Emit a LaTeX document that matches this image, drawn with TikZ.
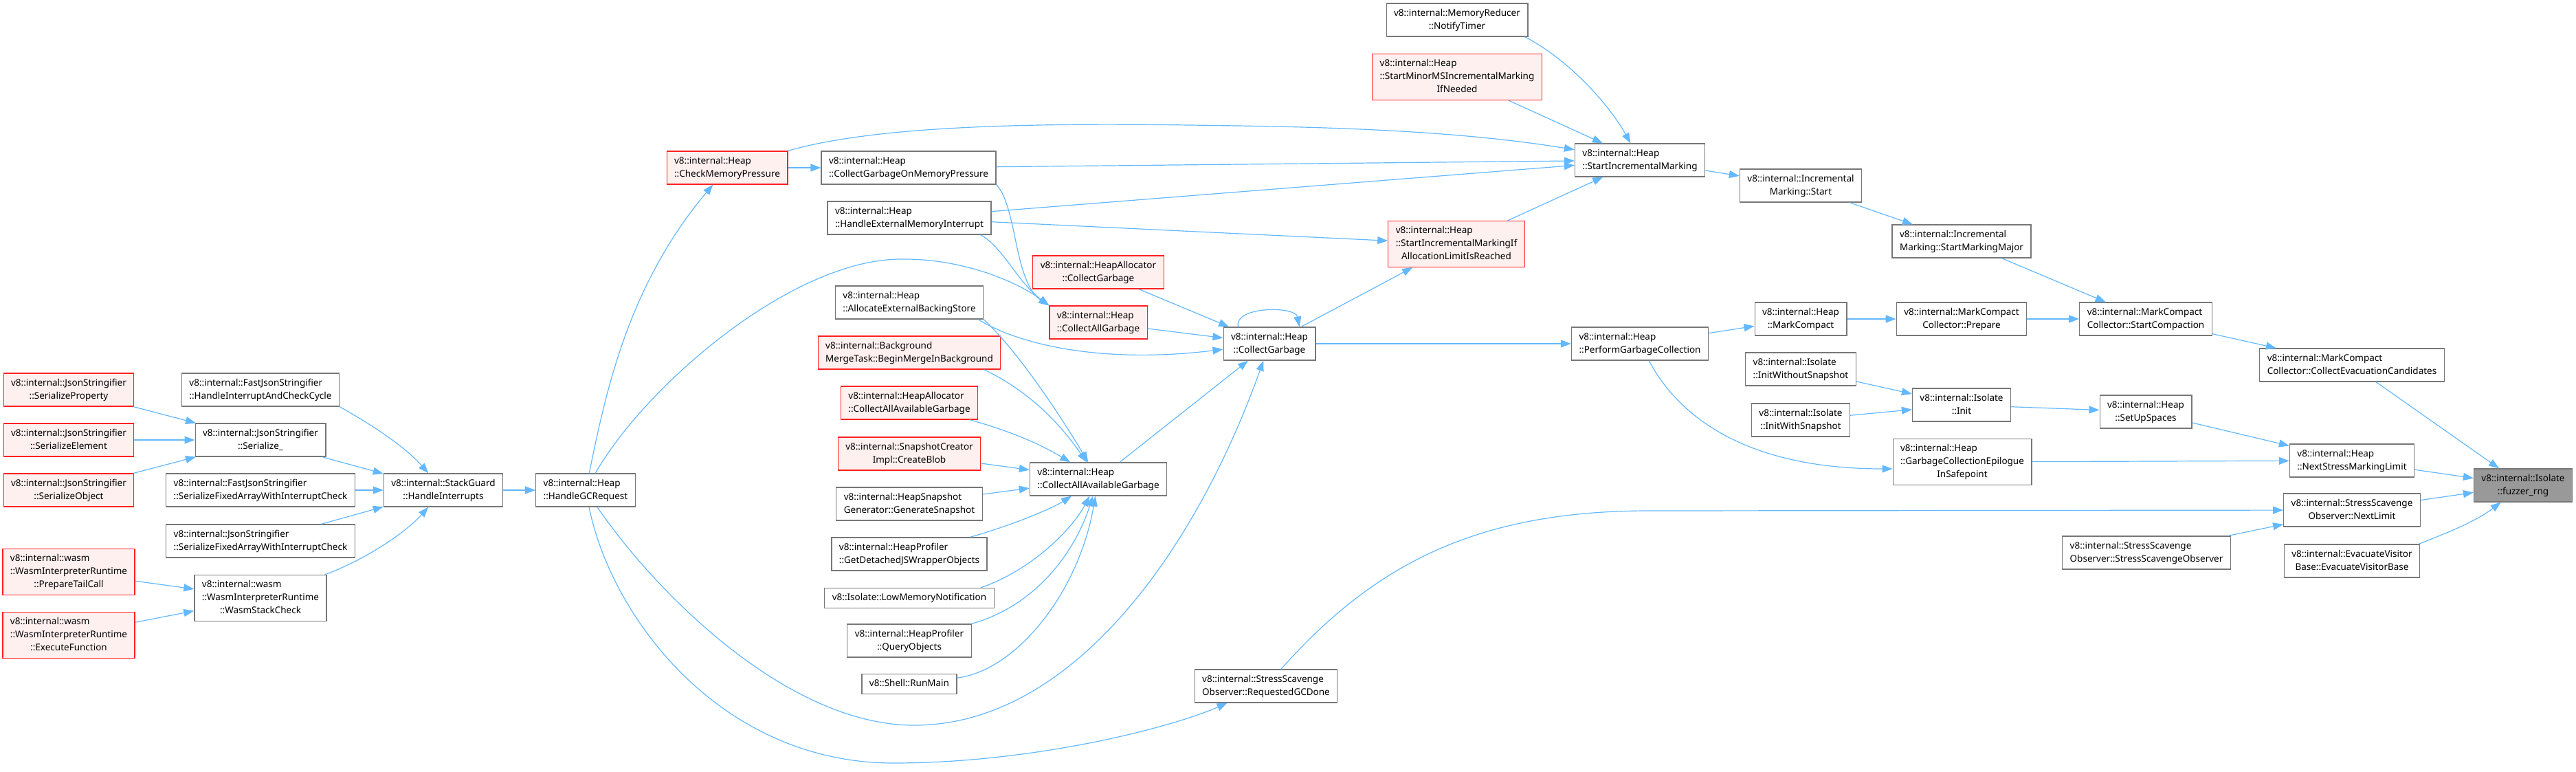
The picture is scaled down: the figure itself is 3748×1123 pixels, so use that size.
\documentclass[tikz,border=0pt]{standalone}
\usepackage{fontspec}
\newfontfamily\graphfont{Noto Sans}
\usetikzlibrary{arrows.meta}
\definecolor{callblue}{HTML}{63B8FF}
\definecolor{boxgrey}{HTML}{777777}
\definecolor{boxred}{HTML}{FF2020}
\definecolor{fillred}{HTML}{FFF0F0}
\definecolor{rootgrey}{HTML}{999999}
\newcommand{\fnone}[1]{\begin{tabular}{@{}c@{}}#1\end{tabular}}
\newcommand{\fnname}[2]{\begin{tabular}{@{}l@{}}#1\\\multicolumn{1}{@{}c@{}}{#2}\end{tabular}}
\newcommand{\fnthree}[3]{\begin{tabular}{@{}l@{}}#1\\#2\\\multicolumn{1}{@{}c@{}}{#3}\end{tabular}}
\tikzset{
  fn/.style={draw=boxgrey, fill=white, line width=1.2pt, inner xsep=11pt, inner ysep=5pt,
    font=\graphfont\fontsize{13.5}{19}\selectfont},
  fnred/.style={fn, draw=boxred, fill=fillred},
  fnroot/.style={fn, fill=rootgrey},
  call/.style={->, color=callblue, line width=1.2pt},
}

\begin{document}
\begin{tikzpicture}[x=1pt, y=-1pt, >={Triangle[length=15pt,width=11pt]}]
  \useasboundingbox (0,0) rectangle (3748,1123);
  % Define the functions
  \node[fnred] (sprop) at (100,567) {\fnname{v8::internal::JsonStringifier}{::SerializeProperty}};
  \node[fnred] (selem) at (100,640) {\fnname{v8::internal::JsonStringifier}{::SerializeElement}};
  \node[fnred] (sobj) at (100,713) {\fnname{v8::internal::JsonStringifier}{::SerializeObject}};
  \node[fnred] (tail) at (100,832) {\fnthree{v8::internal::wasm}{::WasmInterpreterRuntime}{::PrepareTailCall}};
  \node[fnred] (exec) at (100,924) {\fnthree{v8::internal::wasm}{::WasmInterpreterRuntime}{::ExecuteFunction}};

  \node[fn] (hicc) at (379,567) {\fnname{v8::internal::FastJsonStringifier}{::HandleInterruptAndCheckCycle}};
  \node[fn] (ser) at (379,640) {\fnname{v8::internal::JsonStringifier}{::Serialize\_}};
  \node[fn] (fsfa) at (379,713) {\fnname{v8::internal::FastJsonStringifier}{::SerializeFixedArrayWithInterruptCheck}};
  \node[fn] (jsfa) at (379,787) {\fnname{v8::internal::JsonStringifier}{::SerializeFixedArrayWithInterruptCheck}};
  \node[fn] (wsc) at (379,870) {\fnthree{v8::internal::wasm}{::WasmInterpreterRuntime}{::WasmStackCheck}};

  \node[fn] (hint) at (645,713) {\fnname{v8::internal::StackGuard}{::HandleInterrupts}};
  \node[fn] (hgc) at (852,713) {\fnname{v8::internal::Heap}{::HandleGCRequest}};
  \node[fnred] (cmp) at (1058,244) {\fnname{v8::internal::Heap}{::CheckMemoryPressure}};

  \node[fn] (cgmp) at (1322,244) {\fnname{v8::internal::Heap}{::CollectGarbageOnMemoryPressure}};
  \node[fn] (hemi) at (1323,317) {\fnname{v8::internal::Heap}{::HandleExternalMemoryInterrupt}};
  \node[fn] (aebs) at (1323,440) {\fnname{v8::internal::Heap}{::AllocateExternalBackingStore}};
  \node[fnred] (bmt) at (1323,513) {\fnname{v8::internal::Background}{MergeTask::BeginMergeInBackground}};
  \node[fnred] (hacaag) at (1323,586) {\fnname{v8::internal::HeapAllocator}{::CollectAllAvailableGarbage}};
  \node[fnred] (blob) at (1323,660) {\fnname{v8::internal::SnapshotCreator}{Impl::CreateBlob}};
  \node[fn] (gsnap) at (1323,733) {\fnname{v8::internal::HeapSnapshot}{Generator::GenerateSnapshot}};
  \node[fn] (gdjs) at (1323,806) {\fnname{v8::internal::HeapProfiler}{::GetDetachedJSWrapperObjects}};
  \node[fn] (lmn) at (1323,870) {\fnone{v8::Isolate::LowMemoryNotification}};
  \node[fn] (qobj) at (1323,932) {\fnname{v8::internal::HeapProfiler}{::QueryObjects}};
  \node[fn] (runm) at (1323,995) {\fnone{v8::Shell::RunMain}};

  \node[fnred] (hacg) at (1598,396) {\fnname{v8::internal::HeapAllocator}{::CollectGarbage}};
  \node[fnred] (cag) at (1598,469) {\fnname{v8::internal::Heap}{::CollectAllGarbage}};
  \node[fn] (caag) at (1598,697) {\fnname{v8::internal::Heap}{::CollectAllAvailableGarbage}};
  \node[fn] (cg) at (1847,500) {\fnname{v8::internal::Heap}{::CollectGarbage}};
  \node[fn] (rgcd) at (1842,998) {\fnname{v8::internal::StressScavenge}{Observer::RequestedGCDone}};

  \node[fn] (nt) at (2120,29) {\fnname{v8::internal::MemoryReducer}{::NotifyTimer}};
  \node[fnred] (smm) at (2120,112) {\fnthree{v8::internal::Heap}{::StartMinorMSIncrementalMarking}{IfNeeded}};
  \node[fnred] (simr) at (2119,355) {\fnthree{v8::internal::Heap}{::StartIncrementalMarkingIf}{AllocationLimitIsReached}};
  \node[fn] (sim) at (2386,233) {\fnname{v8::internal::Heap}{::StartIncrementalMarking}};
  \node[fn] (pgc) at (2386,500) {\fnname{v8::internal::Heap}{::PerformGarbageCollection}};

  \node[fn] (ims) at (2620,270) {\fnname{v8::internal::Incremental}{Marking::Start}};
  \node[fn] (mc) at (2620,464) {\fnname{v8::internal::Heap}{::MarkCompact}};
  \node[fn] (iws) at (2620,537) {\fnname{v8::internal::Isolate}{::InitWithoutSnapshot}};
  \node[fn] (iwss) at (2620,611) {\fnname{v8::internal::Isolate}{::InitWithSnapshot}};
  \node[fn] (smaj) at (2854,351) {\fnname{v8::internal::Incremental}{Marking::StartMarkingMajor}};
  \node[fn] (prep) at (2854,464) {\fnname{v8::internal::MarkCompact}{Collector::Prepare}};
  \node[fn] (init) at (2854,589) {\fnname{v8::internal::Isolate}{::Init}};
  \node[fn] (gce) at (2855,672) {\fnthree{v8::internal::Heap}{::GarbageCollectionEpilogue}{InSafepoint}};

  \node[fn] (scomp) at (3122,464) {\fnname{v8::internal::MarkCompact}{Collector::StartCompaction}};
  \node[fn] (sus) at (3122,599) {\fnname{v8::internal::Heap}{::SetUpSpaces}};
  \node[fn] (sso) at (3123,804) {\fnname{v8::internal::StressScavenge}{Observer::StressScavengeObserver}};
  \node[fn] (cec) at (3422,531) {\fnname{v8::internal::MarkCompact}{Collector::CollectEvacuationCandidates}};
  \node[fn] (nsml) at (3422,670) {\fnname{v8::internal::Heap}{::NextStressMarkingLimit}};
  \node[fn] (nl) at (3422,742) {\fnname{v8::internal::StressScavenge}{Observer::NextLimit}};
  \node[fn] (evb) at (3422,816) {\fnname{v8::internal::EvacuateVisitor}{Base::EvacuateVisitorBase}};
  \node[fnroot] (rng) at (3671,706) {\fnname{v8::internal::Isolate}{::fuzzer\_rng}};

  % Draw the calls
  \draw[call] (sprop) -- (ser);
  \draw[call] (selem) -- (ser);
  \draw[call] (sobj) -- (ser);
  \draw[call] (tail) -- (wsc);
  \draw[call] (exec) -- (wsc);
  \draw[call] (hicc.south east) .. controls (530,612) and (585,645) .. (hint);
  \draw[call] (ser) -- (hint);
  \draw[call] (fsfa) -- (hint);
  \draw[call] (jsfa) -- (hint);
  \draw[call] (wsc) .. controls (530,815) and (590,775) .. (hint);
  \draw[call] (hint) -- (hgc);

  \draw[call] (hgc) .. controls (880,580) and (910,420) .. (cmp);
  \draw[call] (hgc) .. controls (940,560) and (1150,380) .. (1307,377) .. controls (1400,375) and (1480,410) .. (cag.north west);
  \draw[call] (hgc) .. controls (960,870) and (1150,1055) .. (1330,1055) .. controls (1560,1055) and (1740,800) .. (cg);
  \draw[call] (hgc) .. controls (890,900) and (1050,1110) .. (1300,1110) .. controls (1500,1110) and (1700,1060) .. (rgcd);

  \draw[call] (cmp) -- (cgmp);
  \draw[call] (cmp.north east) .. controls (1300,175) and (1600,180) .. (1800,183) .. controls (2000,186) and (2150,195) .. (sim);
  \draw[call] (cgmp) -- (sim);
  \draw[call] (hemi) -- (sim);
  \draw[call] (hemi) -- (simr);
  \draw[call] (cgmp.south east) .. controls (1480,300) and (1475,410) .. (cag.north west);
  \draw[call] ([xshift=-16pt]hemi.south east) .. controls (1460,360) and (1480,410) .. (cag.north west);

  \draw[call] (hacg) -- (cg);
  \draw[call] (cag) -- (cg);
  \draw[call] ([xshift=-8pt]aebs.south east) .. controls (1480,500) and (1600,530) .. (cg);
  \draw[call] (caag) -- (cg);
  \draw[call] ([xshift=22pt]cg.north west) .. controls (1795,445) and (1885,445) .. ([xshift=-24pt]cg.north east);

  \draw[call] (aebs.south east) .. controls (1480,510) and (1540,600) .. (caag);
  \draw[call] ([xshift=-25pt]bmt.south east) .. controls (1500,570) and (1545,620) .. (caag);
  \draw[call] (hacaag) .. controls (1480,630) and (1520,650) .. (caag);
  \draw[call] (blob) -- (caag);
  \draw[call] (gsnap) -- (caag);
  \draw[call] (gdjs) .. controls (1470,765) and (1530,740) .. (caag);
  \draw[call] ([xshift=-20pt]lmn.north east) .. controls (1500,830) and (1560,770) .. (caag);
  \draw[call] (qobj.north east) .. controls (1510,880) and (1565,800) .. (caag);
  \draw[call] (runm) .. controls (1480,975) and (1570,860) .. (caag);

  \draw[call] (cg) -- (simr);
  \draw[call] (cg) -- (pgc);
  \draw[call] ([xshift=-5pt]nt.south east) .. controls (2280,85) and (2340,150) .. (sim);
  \draw[call] (smm) -- (sim);
  \draw[call] (simr) -- (sim);
  \draw[call] (sim) -- (ims);
  \draw[call] (ims) -- (smaj);
  \draw[call] (smaj) -- (scomp);
  \draw[call] (pgc) -- (mc);
  \draw[call] (mc) -- (prep);
  \draw[call] (prep) -- (scomp);
  \draw[call] (scomp) -- (cec);
  \draw[call] (cec) -- (rng);
  \draw[call] (pgc) .. controls (2450,620) and (2560,682) .. ([yshift=-10pt]gce.west);
  \draw[call] (iws) -- (init);
  \draw[call] (iwss) -- (init);
  \draw[call] (init) -- (sus);
  \draw[call] (sus) -- (nsml);
  \draw[call] (gce) -- (nsml);
  \draw[call] (nsml) -- (rng);
  \draw[call] (nl) -- (rng);
  \draw[call] (sso) -- (nl);
  \draw[call] (rgcd) .. controls (2000,820) and (2150,743) .. (2400,743) -- (nl);
  \draw[call] ([xshift=-2pt]evb.north east) .. controls (3560,775) and (3600,760) .. (rng);
\end{tikzpicture}
\end{document}
